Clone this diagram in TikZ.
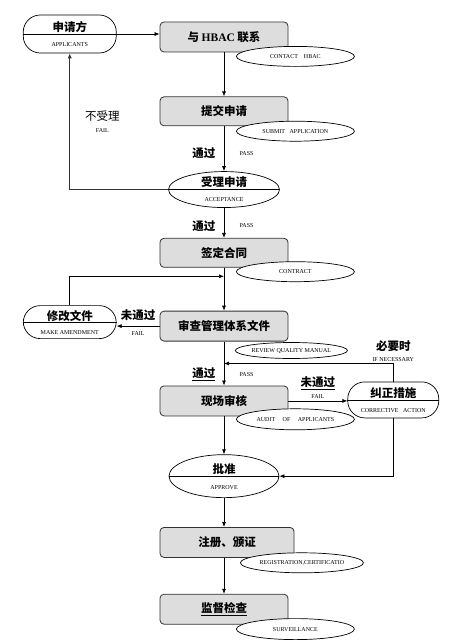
\documentclass[tikz,border=0pt]{standalone}
\usepackage{fontspec}
\setmainfont{Liberation Serif}
\newfontfamily\cjk{Noto Sans CJK SC}
\usetikzlibrary{positioning,calc,shapes.geometric,arrows.meta}
\usepackage{xcolor}
\definecolor{boxgray}{RGB}{221,221,221}
\definecolor{edgegray}{RGB}{50,50,50}
\newcommand{\cntxt}{\cjk\bfseries\fontsize{11.5}{13}\selectfont}
\newcommand{\cnthin}{\cjk\mdseries\fontsize{11.5}{13}\selectfont}
\newcommand{\entxt}{\rmfamily\mdseries\fontsize{6}{7}\selectfont}

\begin{document}
\begin{tikzpicture}[x=1pt, y=-1pt,
    stepbox/.style={rectangle, rounded corners=4pt, draw=edgegray, fill=boxgray,
                    minimum width=128pt, minimum height=30pt, inner sep=0pt,
                    line width=0.8pt, font=\cntxt},
    tag/.style={ellipse, draw=black, fill=white, minimum width=118pt,
                minimum height=20pt, inner sep=0pt, line width=0.7pt, font=\entxt},
    pill/.style={rectangle, rounded corners=17pt, draw=black, fill=white,
                 minimum width=93pt, minimum height=36pt, inner sep=0pt,
                 line width=0.7pt, align=center, font=\entxt},
    oval/.style={ellipse, draw=black, fill=white, inner sep=0pt,
                 line width=0.7pt, align=center, font=\entxt},
    note/.style={align=center, inner sep=1pt, font=\entxt},
    arrow/.style={->, >={Latex[length=5pt,width=4pt]}, line width=0.7pt}
]
\useasboundingbox (0,0) rectangle (460,642);

% main column
\node[stepbox] (b1) at (224,37) {与 {\rmfamily HBAC} 联系};
\node[stepbox, minimum height=29pt, below=44pt of b1] (b2) {提交申请};
\node[oval, minimum width=111pt, minimum height=36pt, below=45pt of b2] (e1)
    {{\cntxt 受理申请}\\[8pt]ACCEPTANCE};
\node[stepbox, minimum height=29pt, below=30pt of e1] (b3) {签定合同};
\node[stepbox, below=43pt of b3] (b4) {审查管理体系文件};
\node[stepbox, below=44pt of b4] (b5) {现场审核};
\node[oval, minimum width=110pt, minimum height=43pt, below=38pt of b5] (e2)
    {{\cntxt 批准}\\[9pt]APPROVE};
\node[stepbox, minimum width=134pt, below=29pt of e2, xshift=3pt] (b6) {注册、颁证};
\node[stepbox, below=36pt of b6, xshift=-3pt] (b7) {\underline{监督检查}};

% side nodes
\node[pill, minimum height=38pt, left=43pt of b1, yshift=3pt] (p1)
    {{\cntxt 申请方}\\[8pt]APPLICANTS};
\node[pill, minimum height=33pt, left=43pt of b4, yshift=4pt] (p2)
    {{\cntxt 修改文件}\\[7pt]MAKE~AMENDMENT};
\node[pill, minimum width=91pt, right=59pt of b5, yshift=1pt] (p3)
    {{\cntxt 纠正措施}\\[8pt]CORRECTIVE~~~ACTION};

% dividers
\foreach \n in {p1,p2,p3,e1,e2}
  \draw[line width=0.7pt] (\n.west) -- (\n.east);

% english tags
\node[tag] (t1) at ($(b1.south east)+(7,4)$) {CONTACT~~~~HBAC};
\node[tag] (t2) at ($(b2.south east)+(7,5)$) {SUBMIT~~~APPLICATION};
\node[tag] (t3) at ($(b3.south east)+(7,4)$) {CONTRACT};
\node[tag, minimum width=109pt, minimum height=16pt] (t4) at ($(b4.south east)+(3,9)$)
    {REVIEW QUALITY MANUAL};
\node[tag, minimum height=21pt] (t5) at ($(b5.south east)+(7,3)$)
    {AUDIT~~~~~OF~~~~~APPLICANTS};
\node[tag, minimum width=123pt] (t6) at ($(b6.south east)+(7.5,5)$)
    {REGISTRATION,CERTIFICATIO};
\node[tag, minimum height=21pt] (t7) at ($(b7.south east)+(7,4.5)$) {SURVEILLANCE};

% helper points on the main line
\coordinate (m1) at ($(b3.south)!0.2!(b4.north)$);
\coordinate (m2) at ($(b4.south)!0.5!(b5.north)$);

% connectors
\draw[arrow] (p1.east) -- (p1.east -| b1.west);
\draw[arrow] (b1) -- (b2);
\draw[arrow] (b2) -- node[pos=0.6, left=5pt, font=\cntxt]{通过}
    node[pos=0.6, right=12pt, font=\entxt]{PASS} (e1);
\draw[arrow] (e1) -- node[pos=0.6, left=5pt, font=\cntxt]{通过}
    node[pos=0.6, right=12pt, font=\entxt]{PASS} (b3);
\draw[arrow] (b3) -- (b4);
\draw[arrow] (b4) -- node[pos=0.75, left=5pt, font=\cntxt]{\underline{通过}}
    node[pos=0.75, right=12pt, font=\entxt]{PASS} (b5);
\draw[arrow] (b5) -- (e2);
\draw[arrow] (e2) -- (e2.south |- b6.north);
\draw[arrow] (b6.south -| b7.north) -- (b7);

\draw[arrow, draw=edgegray] (e1.west) -| node[pos=0.75, right=14pt, note]
    {{\cnthin 不受理}\\[5pt]FAIL} (p1.south);
\draw[arrow] (b4.west) -- node[midway, note, yshift=4pt]
    {{\cntxt 未通过}\\[9pt]FAIL} (b4.west -| p2.east);
\draw[arrow] (p2.north) |- (m1);
\draw[arrow] (b5.east) -- node[midway, above=1pt, note]
    {{\cntxt \underline{未通过}}\\[4pt]FAIL} (b5.east -| p3.west);
\draw[arrow] (p3.north) |- node[pos=0.5, above=1pt, note]
    {{\cntxt 必要时}\\[4pt]IF~NECESSARY} (m2);
\draw[arrow] (p3.south) |- (e2.east);

\end{tikzpicture}
\end{document}
